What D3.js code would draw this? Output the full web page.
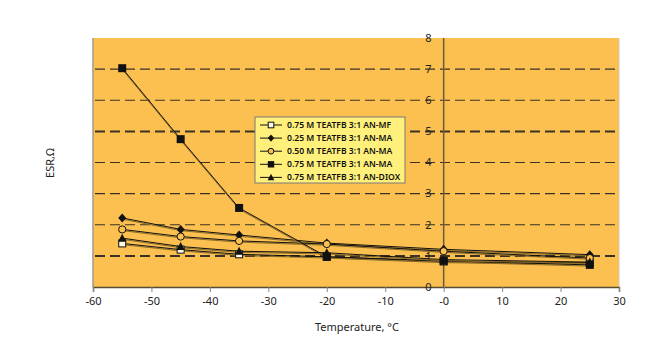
<!DOCTYPE html>
<html><head><meta charset="utf-8">
<script src="https://cdn.jsdelivr.net/npm/d3@7"></script>
<style>body{margin:0;background:#fff}svg{display:block}text{font-family:"Noto Sans",sans-serif}</style>
</head><body><svg id="c" width="669" height="351"></svg>
<script>
const temps = [-55, -45, -35, -20, 0, 25];
const seriesNames = ["0.75 M TEATFB 3:1 AN-MF","0.25 M TEATFB 3:1 AN-MA","0.50 M TEATFB 3:1 AN-MA","0.75 M TEATFB 3:1 AN-MA","0.75 M TEATFB 3:1 AN-DIOX"];
const anMF   = [1.40, 1.20, 1.05, 0.97, 0.82, 0.78];
const anMA25 = [2.22, 1.85, 1.67, 1.41, 1.21, 1.04];
const anMA50 = [1.85, 1.62, 1.48, 1.38, 1.15, 0.93];
const anMA75 = [7.03, 4.75, 2.54, 0.97, 0.84, 0.71];
const anDIOX = [1.57, 1.30, 1.15, 1.10, 0.88, 0.80];
const markers = ["openSquare","diamond","openCircle","square","triangle"];
const xTicks = [-60,-50,-40,-30,-20,-10,0,10,20,30];
const xTickLabels = ["-60","-50","-40","-30","-20","-10","-0","10","20","30"];
const yTicks = [0,1,2,3,4,5,6,7,8];
const allSeries = [anMF, anMA25, anMA50, anMA75, anDIOX];

const svg = d3.select("#c");
const L=93, R=619, T=38, B=287;
const x = d3.scaleLinear().domain([-60,30]).range([L,R]);
const y = d3.scaleLinear().domain([0,8]).range([B,T]);

svg.append("rect").attr("x",L).attr("y",T).attr("width",R-L).attr("height",B-T).attr("fill","#FBC04F");
svg.append("line").attr("x1",L).attr("x2",L).attr("y1",T).attr("y2",B).attr("stroke","#a09a90").attr("stroke-width",1.5);
svg.append("line").attr("x1",R).attr("x2",R).attr("y1",T).attr("y2",B).attr("stroke","#d8c9a8").attr("stroke-width",1);

// gridlines
yTicks.filter(v=>v>0 && v<8).forEach(v=>{
  svg.append("line").attr("x1",L+2).attr("x2",R).attr("y1",y(v)).attr("y2",y(v))
    .attr("stroke","#3a3226").attr("stroke-width",(v===1||v===5)?2:1.2)
    .attr("stroke-dasharray","10,5");
});

// x axis
const xa = svg.append("g").attr("transform",`translate(0,${B})`)
  .call(d3.axisBottom(x).tickValues(xTicks).tickSize(5).tickFormat((d,i)=>xTickLabels[i]));
xa.select(".domain").attr("stroke","#5a4a30").attr("stroke-width",1.5);
xa.selectAll(".tick line").attr("stroke","#888");
xa.selectAll("text").attr("font-size",11).attr("fill","#222").attr("dy","0.9em");

// y axis at x=0
svg.append("line").attr("x1",x(0)).attr("x2",x(0)).attr("y1",T).attr("y2",B).attr("stroke","#6b5a3e").attr("stroke-width",1.5);
yTicks.forEach(v=>{
  svg.append("text").attr("x",x(0)-12).attr("y",y(v)).attr("dy","0.35em").attr("text-anchor","end")
    .attr("font-size",11).attr("fill","#222").text(v);
});

svg.append("text").attr("x",357).attr("y",331).attr("text-anchor","middle").attr("font-size",11).attr("fill","#222").text("Temperature, °C");
svg.append("text").attr("transform","translate(54,163) rotate(-90)").attr("text-anchor","middle").attr("font-size",11).attr("fill","#222").text("ESR,Ω");

function drawMarker(g, type, cx, cy, s){
  s = s||1;
  if(type==="openSquare") g.append("rect").attr("x",cx-3.5*s).attr("y",cy-3.5*s).attr("width",7*s).attr("height",7*s).attr("fill","#fff8e0").attr("stroke","#111").attr("stroke-width",1);
  else if(type==="square") g.append("rect").attr("x",cx-4*s).attr("y",cy-4*s).attr("width",8*s).attr("height",8*s).attr("fill","#111");
  else if(type==="diamond") g.append("path").attr("d",`M${cx},${cy-4.5*s}L${cx+4*s},${cy}L${cx},${cy+4.5*s}L${cx-4*s},${cy}Z`).attr("fill","#111");
  else if(type==="openCircle") g.append("circle").attr("cx",cx).attr("cy",cy).attr("r",3.6*s).attr("fill","#FBC04F").attr("stroke","#111").attr("stroke-width",1);
  else if(type==="triangle") g.append("path").attr("d",`M${cx},${cy-4.5*s}L${cx+4.2*s},${cy+3.5*s}L${cx-4.2*s},${cy+3.5*s}Z`).attr("fill","#111");
}

const line = d3.line().x((d,i)=>x(temps[i])).y(d=>y(d));
allSeries.forEach((s,k)=>{
  svg.append("path").attr("d",line(s)).attr("fill","none").attr("stroke","#8a6a28").attr("stroke-width",1).attr("transform","translate(0,1.2)");
  svg.append("path").attr("d",line(s)).attr("fill","none").attr("stroke","#111").attr("stroke-width",1);
});
allSeries.forEach((s,k)=>{
  const g = svg.append("g");
  s.forEach((v,i)=>drawMarker(g, markers[k], x(temps[i]), y(v)));
});

// legend
const lg = svg.append("g");
lg.append("rect").attr("x",255).attr("y",117).attr("width",150).attr("height",66).attr("fill","#FFF07C").attr("stroke","#7a7a7a").attr("stroke-width",1);
seriesNames.forEach((n,k)=>{
  const yy = 125 + k*13.1;
  lg.append("line").attr("x1",260).attr("x2",282).attr("y1",yy).attr("y2",yy).attr("stroke","#111").attr("stroke-width",1);
  drawMarker(lg, markers[k], 271, yy, 0.8);
  lg.append("text").attr("x",287).attr("y",yy).attr("dy","0.35em").attr("font-size",8.6).attr("font-weight","600").attr("fill","#111").text(n);
});
</script></body></html>
